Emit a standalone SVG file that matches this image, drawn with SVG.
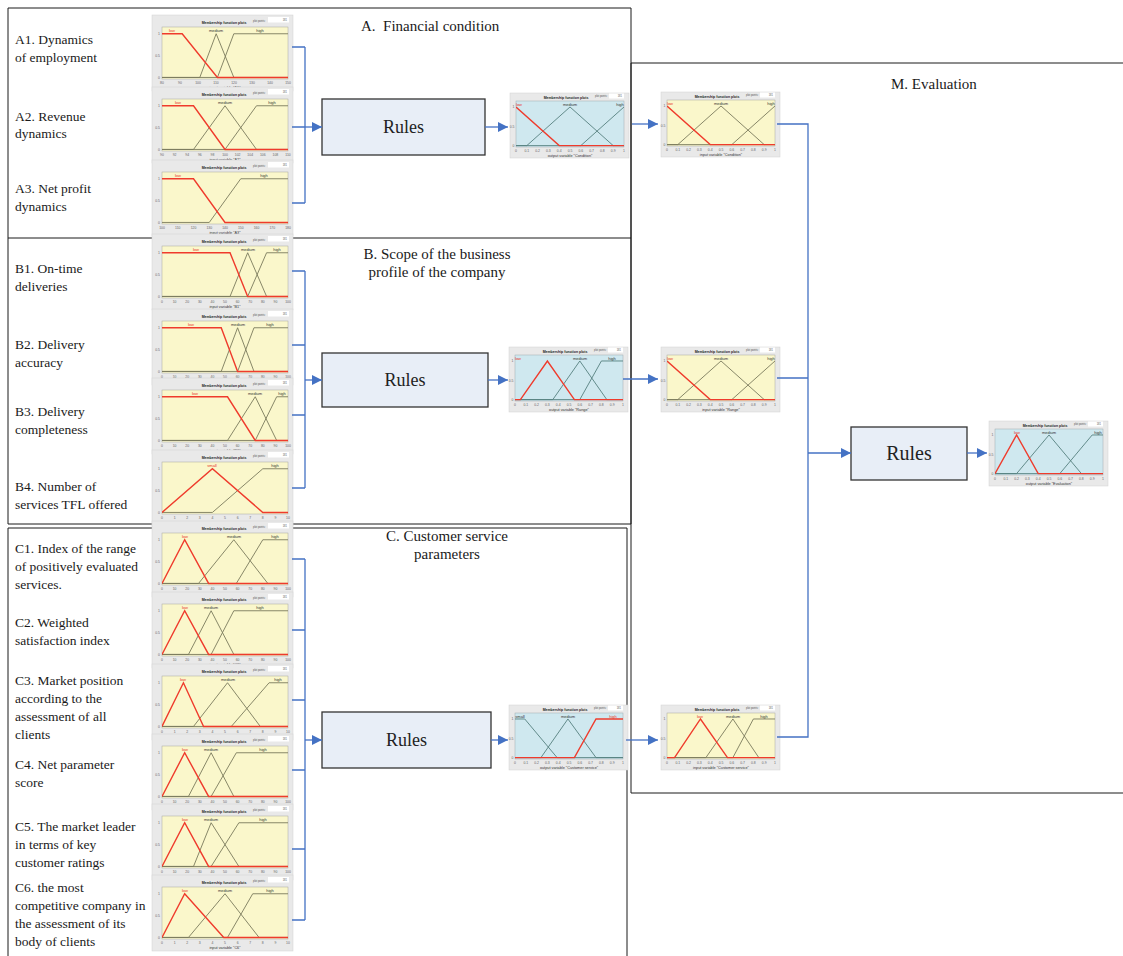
<svg xmlns="http://www.w3.org/2000/svg" xmlns:xlink="http://www.w3.org/1999/xlink" width="1123" height="956" viewBox="0 0 1123 956">
<style>
  .frame{fill:none;stroke:#1a1a1a;stroke-width:1}
  .hd{font-family:"Liberation Serif","Times New Roman",serif;font-size:15px;fill:#1a1a1a}
  .it{font-family:"Liberation Serif","Times New Roman",serif;font-size:13.5px;fill:#1a1a1a}
  .rb{fill:#e8eef7;stroke:#333;stroke-width:1.3}
  .rt{font-family:"Liberation Serif","Times New Roman",serif;font-size:18px;fill:#222;text-anchor:middle}
  .cn{fill:none;stroke:#4472c4;stroke-width:1.3}
  .pnl{fill:#e9e9e9;stroke:#d2d2d2;stroke-width:0.5}
  .yel{fill:#faf7cb;stroke:#a8a8a0;stroke-width:0.5}
  .blu{fill:#cfe8ef;stroke:#a0aab0;stroke-width:0.5}
  .ppb{fill:#fff}
  .ttl{font-family:"Liberation Sans",Arial,sans-serif;font-size:3.5px;font-weight:bold;fill:#222;text-anchor:middle}
  .pp{font-family:"Liberation Sans",Arial,sans-serif;font-size:2.6px;fill:#555}
  .tk{font-family:"Liberation Sans",Arial,sans-serif;font-size:3.4px;fill:#666;text-anchor:middle}
  .yl{font-family:"Liberation Sans",Arial,sans-serif;font-size:3.4px;fill:#666;text-anchor:end}
  .cap{font-family:"Liberation Sans",Arial,sans-serif;font-size:3.8px;fill:#333;text-anchor:middle}
  .lb{font-family:"Liberation Sans",Arial,sans-serif;font-size:4px;fill:#333;text-anchor:middle}
  .lr{fill:#e8352a}
  .mf{fill:none;stroke:#7a7a5c;stroke-width:0.9;vector-effect:non-scaling-stroke}
  .mfb{fill:none;stroke:#56807f;stroke-width:0.9;vector-effect:non-scaling-stroke}
  .sel{fill:none;stroke:#ef3b2c;stroke-width:1.4;vector-effect:non-scaling-stroke}
</style>
<defs>
  <marker id="ah" viewBox="0 0 10 10" refX="10" refY="5" markerWidth="10" markerHeight="10" markerUnits="userSpaceOnUse" orient="auto">
    <path d="M0,0 L10,5 L0,10 z" fill="#4472c4"/>
  </marker>
  <!-- input-variable panel: plot area 126 x 52 at local origin -->
  <g id="fin">
    <rect class="pnl" x="-10" y="-12" width="141" height="76"/>
    <text class="ttl" x="62" y="-3">Membership function plots</text>
    <text class="pp" x="91" y="-5.5">plot points:</text>
    <rect class="ppb" x="106" y="-10" width="21" height="5.5"/>
    <text class="pp" x="125" y="-6" text-anchor="end">181</text>
    <rect class="yel" width="126" height="52"/>
    <text class="yl" x="-2" y="8">1</text>
    <text class="yl" x="-2" y="29.8">0.5</text>
    <text class="yl" x="-2" y="51.6">0</text>
  </g>
  <!-- output-style panels: plot area 108 x 46 -->
  <g id="foy">
    <rect class="pnl" x="-6" y="-8" width="119" height="65"/>
    <text class="ttl" x="50" y="-2">Membership function plots</text>
    <text class="pp" x="79" y="-4">plot points:</text>
    <rect class="ppb" x="93" y="-7.5" width="15" height="5"/>
    <text class="pp" x="106" y="-4" text-anchor="end">181</text>
    <rect class="yel" width="108" height="46"/>
    <text class="yl" x="-1.5" y="7.2">1</text>
    <text class="yl" x="-1.5" y="26.5">0.5</text>
    <text class="yl" x="-1.5" y="45.8">0</text>
  </g>
  <g id="fob">
    <rect class="pnl" x="-6" y="-8" width="119" height="65"/>
    <text class="ttl" x="50" y="-2">Membership function plots</text>
    <text class="pp" x="79" y="-4">plot points:</text>
    <rect class="ppb" x="93" y="-7.5" width="15" height="5"/>
    <text class="pp" x="106" y="-4" text-anchor="end">181</text>
    <rect class="blu" width="108" height="46"/>
    <text class="yl" x="-1.5" y="7.2">1</text>
    <text class="yl" x="-1.5" y="26.5">0.5</text>
    <text class="yl" x="-1.5" y="45.8">0</text>
  </g>
  <!-- axis tick label rows -->
  <g id="t100">
    <text class="tk" x="0" y="56.5">0</text><text class="tk" x="12.6" y="56.5">10</text><text class="tk" x="25.2" y="56.5">20</text><text class="tk" x="37.8" y="56.5">30</text><text class="tk" x="50.4" y="56.5">40</text><text class="tk" x="63" y="56.5">50</text><text class="tk" x="75.6" y="56.5">60</text><text class="tk" x="88.2" y="56.5">70</text><text class="tk" x="100.8" y="56.5">80</text><text class="tk" x="113.4" y="56.5">90</text><text class="tk" x="126" y="56.5">100</text>
  </g>
  <g id="t10">
    <text class="tk" x="0" y="56.5">0</text><text class="tk" x="12.6" y="56.5">1</text><text class="tk" x="25.2" y="56.5">2</text><text class="tk" x="37.8" y="56.5">3</text><text class="tk" x="50.4" y="56.5">4</text><text class="tk" x="63" y="56.5">5</text><text class="tk" x="75.6" y="56.5">6</text><text class="tk" x="88.2" y="56.5">7</text><text class="tk" x="100.8" y="56.5">8</text><text class="tk" x="113.4" y="56.5">9</text><text class="tk" x="126" y="56.5">10</text>
  </g>
  <g id="t01">
    <text class="tk" x="0" y="50.5">0</text><text class="tk" x="10.8" y="50.5">0.1</text><text class="tk" x="21.6" y="50.5">0.2</text><text class="tk" x="32.4" y="50.5">0.3</text><text class="tk" x="43.2" y="50.5">0.4</text><text class="tk" x="54" y="50.5">0.5</text><text class="tk" x="64.8" y="50.5">0.6</text><text class="tk" x="75.6" y="50.5">0.7</text><text class="tk" x="86.4" y="50.5">0.8</text><text class="tk" x="97.2" y="50.5">0.9</text><text class="tk" x="108" y="50.5">1</text>
  </g>
</defs>

<rect width="1123" height="956" fill="#ffffff"/>

<!-- section frames -->
<g id="frames">
  <path class="frame" d="M8,8 H631 V524 H8 Z M8,238 H631"/>
  <path class="frame" d="M8,956 V528 H627 V956"/>
  <path class="frame" d="M1123,63 H631 V793 H1123"/>
  <text class="hd" x="361" y="31">A.&#160; Financial condition</text>
  <text class="hd" x="437" y="259" text-anchor="middle">B. Scope of the business</text>
  <text class="hd" x="437" y="277" text-anchor="middle">profile of the company</text>
  <text class="hd" x="447" y="541" text-anchor="middle">C. Customer service</text>
  <text class="hd" x="447" y="559" text-anchor="middle">parameters</text>
  <text class="hd" x="891" y="89">M. Evaluation</text>
</g>

<!-- indicator labels -->
<g id="labels">
  <text class="it" x="15" y="44">A1. Dynamics</text>
  <text class="it" x="15" y="62">of employment</text>
  <text class="it" x="15" y="121">A2. Revenue</text>
  <text class="it" x="15" y="138">dynamics</text>
  <text class="it" x="15" y="193">A3. Net profit</text>
  <text class="it" x="15" y="211">dynamics</text>
  <text class="it" x="15" y="273">B1. On-time</text>
  <text class="it" x="15" y="291">deliveries</text>
  <text class="it" x="15" y="349">B2. Delivery</text>
  <text class="it" x="15" y="367">accuracy</text>
  <text class="it" x="15" y="416">B3. Delivery</text>
  <text class="it" x="15" y="434">completeness</text>
  <text class="it" x="15" y="491">B4. Number of</text>
  <text class="it" x="15" y="509">services TFL offered</text>
  <text class="it" x="15" y="553">C1. Index of the range</text>
  <text class="it" x="15" y="571">of positively evaluated</text>
  <text class="it" x="15" y="589">services.</text>
  <text class="it" x="15" y="627">C2. Weighted</text>
  <text class="it" x="15" y="645">satisfaction index</text>
  <text class="it" x="15" y="685">C3. Market position</text>
  <text class="it" x="15" y="703">according to the</text>
  <text class="it" x="15" y="721">assessment of all</text>
  <text class="it" x="15" y="739">clients</text>
  <text class="it" x="15" y="769">C4. Net parameter</text>
  <text class="it" x="15" y="787">score</text>
  <text class="it" x="15" y="831">C5. The market leader</text>
  <text class="it" x="15" y="849">in terms of key</text>
  <text class="it" x="15" y="867">customer ratings</text>
  <text class="it" x="15" y="892">C6. the most</text>
  <text class="it" x="15" y="910">competitive company in</text>
  <text class="it" x="15" y="928">the assessment of its</text>
  <text class="it" x="15" y="946">body of clients</text>
</g>

<!-- membership function plots: inputs -->
<g id="plotA1" transform="translate(162,27)">
  <use href="#fin"/>
  <svg width="126" height="52" viewBox="0 0 100 100" preserveAspectRatio="none">
    <polyline class="mf" points="0,97 30,97 43,13 57,97 100,97"/>
    <polyline class="mf" points="0,97 44,97 57,13 100,13"/>
    <polyline class="sel" points="0,13 16,13 44,97 100,97"/>
  </svg>
  <text class="lb lr" x="10" y="5.2">low</text><text class="lb" x="54" y="5.2">medium</text><text class="lb" x="98" y="5.2">high</text>
  <text class="tk" x="0" y="56.5">80</text><text class="tk" x="18" y="56.5">90</text><text class="tk" x="36" y="56.5">100</text><text class="tk" x="54" y="56.5">110</text><text class="tk" x="72" y="56.5">120</text><text class="tk" x="90" y="56.5">130</text><text class="tk" x="108" y="56.5">140</text><text class="tk" x="126" y="56.5">150</text>
  <text class="cap" x="63" y="61.5">input variable "A1"</text>
</g>
<g id="plotA2" transform="translate(162,99)">
  <use href="#fin"/>
  <svg width="126" height="52" viewBox="0 0 100 100" preserveAspectRatio="none">
    <polyline class="mf" points="0,97 25,97 50,13 75,97 100,97"/>
    <polyline class="mf" points="0,97 50,97 75,13 100,13"/>
    <polyline class="sel" points="0,13 25,13 50,97 100,97"/>
  </svg>
  <text class="lb lr" x="16" y="5.2">low</text><text class="lb" x="63" y="5.2">medium</text><text class="lb" x="110" y="5.2">high</text>
  <text class="tk" x="0" y="56.5">90</text><text class="tk" x="12.6" y="56.5">92</text><text class="tk" x="25.2" y="56.5">94</text><text class="tk" x="37.8" y="56.5">96</text><text class="tk" x="50.4" y="56.5">98</text><text class="tk" x="63" y="56.5">100</text><text class="tk" x="75.6" y="56.5">102</text><text class="tk" x="88.2" y="56.5">104</text><text class="tk" x="100.8" y="56.5">106</text><text class="tk" x="113.4" y="56.5">108</text><text class="tk" x="126" y="56.5">110</text>
  <text class="cap" x="63" y="61.5">input variable "A2"</text>
</g>
<g id="plotA3" transform="translate(162,172)">
  <use href="#fin"/>
  <svg width="126" height="52" viewBox="0 0 100 100" preserveAspectRatio="none">
    <polyline class="mf" points="0,97 37.5,97 62.5,13 100,13"/>
    <polyline class="sel" points="0,13 25,13 50,97 100,97"/>
  </svg>
  <text class="lb lr" x="16" y="5.2">low</text><text class="lb" x="102" y="5.2">high</text>
  <text class="tk" x="0" y="56.5">100</text><text class="tk" x="15.75" y="56.5">110</text><text class="tk" x="31.5" y="56.5">120</text><text class="tk" x="47.25" y="56.5">130</text><text class="tk" x="63" y="56.5">140</text><text class="tk" x="78.75" y="56.5">150</text><text class="tk" x="94.5" y="56.5">160</text><text class="tk" x="110.25" y="56.5">170</text><text class="tk" x="126" y="56.5">180</text>
  <text class="cap" x="63" y="61.5">input variable "A3"</text>
</g>
<g id="plotB1" transform="translate(162,246)">
  <use href="#fin"/>
  <svg width="126" height="52" viewBox="0 0 100 100" preserveAspectRatio="none">
    <polyline class="mf" points="0,97 54,97 68,13 83,97 100,97"/>
    <polyline class="mf" points="0,97 68,97 83,13 100,13"/>
    <polyline class="sel" points="0,13 54,13 68,97 100,97"/>
  </svg>
  <text class="lb lr" x="34" y="5.2">low</text><text class="lb" x="86" y="5.2">medium</text><text class="lb" x="115" y="5.2">high</text>
  <use href="#t100"/>
  <text class="cap" x="63" y="61.5">input variable "B1"</text>
</g>
<g id="plotB2" transform="translate(162,321)">
  <use href="#fin"/>
  <svg width="126" height="52" viewBox="0 0 100 100" preserveAspectRatio="none">
    <polyline class="mf" points="0,97 47,97 60,13 73,97 100,97"/>
    <polyline class="mf" points="0,97 60,97 73,13 100,13"/>
    <polyline class="sel" points="0,13 47,13 60,97 100,97"/>
  </svg>
  <text class="lb lr" x="29" y="5.2">low</text><text class="lb" x="76" y="5.2">medium</text><text class="lb" x="108" y="5.2">high</text>
  <use href="#t100"/>
  <text class="cap" x="63" y="61.5">input variable "B2"</text>
</g>
<g id="plotB3" transform="translate(162,390)">
  <use href="#fin"/>
  <svg width="126" height="52" viewBox="0 0 100 100" preserveAspectRatio="none">
    <polyline class="mf" points="0,97 52,97 74,13 91,97 100,97"/>
    <polyline class="mf" points="0,97 74,97 91,13 100,13"/>
    <polyline class="sel" points="0,13 52,13 74,97 100,97"/>
  </svg>
  <text class="lb lr" x="33" y="5.2">low</text><text class="lb" x="93" y="5.2">medium</text><text class="lb" x="120" y="5.2">high</text>
  <use href="#t100"/>
  <text class="cap" x="63" y="61.5">input variable "B3"</text>
</g>
<g id="plotB4" transform="translate(162,462)">
  <use href="#fin"/>
  <svg width="126" height="52" viewBox="0 0 100 100" preserveAspectRatio="none">
    <polyline class="mf" points="0,97 40,97 80,13 100,13"/>
    <polyline class="sel" points="0,97 40,13 80,97 100,97"/>
  </svg>
  <text class="lb lr" x="50" y="5.2">small</text><text class="lb" x="113" y="5.2">high</text>
  <use href="#t10"/>
  <text class="cap" x="63" y="61.5">input variable "B4"</text>
</g>
<g id="plotC1" transform="translate(162,533)">
  <use href="#fin"/>
  <svg width="126" height="52" viewBox="0 0 100 100" preserveAspectRatio="none">
    <polyline class="mf" points="0,97 29,97 57,13 84,97 100,97"/>
    <polyline class="mf" points="0,97 59,97 80,13 100,13"/>
    <polyline class="sel" points="0,97 18,13 37,97 100,97"/>
  </svg>
  <text class="lb lr" x="23" y="5.2">low</text><text class="lb" x="72" y="5.2">medium</text><text class="lb" x="113" y="5.2">high</text>
  <use href="#t100"/>
  <text class="cap" x="63" y="61.5">input variable "C1"</text>
</g>
<g id="plotC2" transform="translate(162,604)">
  <use href="#fin"/>
  <svg width="126" height="52" viewBox="0 0 100 100" preserveAspectRatio="none">
    <polyline class="mf" points="0,97 21,97 39,13 57,97 100,97"/>
    <polyline class="mf" points="0,97 39,97 57,13 100,13"/>
    <polyline class="sel" points="0,97 18,13 37,97 100,97"/>
  </svg>
  <text class="lb lr" x="23" y="5.2">low</text><text class="lb" x="49" y="5.2">medium</text><text class="lb" x="98" y="5.2">high</text>
  <use href="#t100"/>
  <text class="cap" x="63" y="61.5">input variable "C2"</text>
</g>
<g id="plotC3" transform="translate(162,676)">
  <use href="#fin"/>
  <svg width="126" height="52" viewBox="0 0 100 100" preserveAspectRatio="none">
    <polyline class="mf" points="0,97 25,97 52,13 78,97 100,97"/>
    <polyline class="mf" points="0,97 55,97 85,13 100,13"/>
    <polyline class="sel" points="0,97 17,13 33,97 100,97"/>
  </svg>
  <text class="lb lr" x="21" y="5.2">low</text><text class="lb" x="66" y="5.2">medium</text><text class="lb" x="116" y="5.2">high</text>
  <use href="#t10"/>
  <text class="cap" x="63" y="61.5">input variable "C3"</text>
</g>
<g id="plotC4" transform="translate(162,746)">
  <use href="#fin"/>
  <svg width="126" height="52" viewBox="0 0 100 100" preserveAspectRatio="none">
    <polyline class="mf" points="0,97 21,97 39,13 57,97 100,97"/>
    <polyline class="mf" points="0,97 39,97 59,13 100,13"/>
    <polyline class="sel" points="0,97 18,13 37,97 100,97"/>
  </svg>
  <text class="lb lr" x="23" y="5.2">low</text><text class="lb" x="49" y="5.2">medium</text><text class="lb" x="101" y="5.2">high</text>
  <use href="#t100"/>
  <text class="cap" x="63" y="61.5">input variable "C4"</text>
</g>
<g id="plotC5" transform="translate(162,816)">
  <use href="#fin"/>
  <svg width="126" height="52" viewBox="0 0 100 100" preserveAspectRatio="none">
    <polyline class="mf" points="0,97 25,97 39,13 61,97 100,97"/>
    <polyline class="mf" points="0,97 39,97 61,13 100,13"/>
    <polyline class="sel" points="0,97 18,13 37,97 100,97"/>
  </svg>
  <text class="lb lr" x="23" y="5.2">low</text><text class="lb" x="49" y="5.2">medium</text><text class="lb" x="101" y="5.2">high</text>
  <use href="#t100"/>
  <text class="cap" x="63" y="61.5">input variable "C5"</text>
</g>
<g id="plotC6" transform="translate(162,887)">
  <use href="#fin"/>
  <svg width="126" height="52" viewBox="0 0 100 100" preserveAspectRatio="none">
    <polyline class="mf" points="0,97 21,97 50,13 77,97 100,97"/>
    <polyline class="mf" points="0,97 52,97 72,13 100,13"/>
    <polyline class="sel" points="0,97 18,13 49,97 100,97"/>
  </svg>
  <text class="lb lr" x="23" y="5.2">low</text><text class="lb" x="63" y="5.2">medium</text><text class="lb" x="108" y="5.2">high</text>
  <use href="#t10"/>
  <text class="cap" x="63" y="61.5">input variable "C6"</text>
</g>

<!-- aggregated outputs and evaluation inputs -->
<g id="outA" transform="translate(516,101)">
  <use href="#fob"/>
  <svg width="108" height="46" viewBox="0 0 100 100" preserveAspectRatio="none">
    <polyline class="mfb" points="0,97 10,97 50,13 90,97 100,97"/>
    <polyline class="mfb" points="0,97 60,97 100,13"/>
    <polyline class="sel" points="0,13 40,97 100,97"/>
  </svg>
  <text class="lb lr" x="3" y="4.6">low</text><text class="lb" x="54" y="4.6">medium</text><text class="lb" x="104" y="4.6">high</text>
  <use href="#t01"/>
  <text class="cap" x="54" y="55.5">output variable "Condition"</text>
</g>
<g id="evalA" transform="translate(667,100)">
  <use href="#foy"/>
  <svg width="108" height="46" viewBox="0 0 100 100" preserveAspectRatio="none">
    <polyline class="mf" points="0,97 10,97 50,13 90,97 100,97"/>
    <polyline class="mf" points="0,97 60,97 100,13"/>
    <polyline class="sel" points="0,13 40,97 100,97"/>
  </svg>
  <text class="lb lr" x="3" y="4.6">low</text><text class="lb" x="54" y="4.6">medium</text><text class="lb" x="104" y="4.6">high</text>
  <use href="#t01"/>
  <text class="cap" x="54" y="55.5">input variable "Condition"</text>
</g>
<g id="outB" transform="translate(515,355)">
  <use href="#fob"/>
  <svg width="108" height="46" viewBox="0 0 100 100" preserveAspectRatio="none">
    <polyline class="mfb" points="0,97 35,97 60,13 85,97 100,97"/>
    <polyline class="mfb" points="0,97 60,97 80,13 100,13"/>
    <polyline class="sel" points="0,97 5,97 30,13 55,97 100,97"/>
  </svg>
  <text class="lb lr" x="3" y="4.6">low</text><text class="lb" x="65" y="4.6">medium</text><text class="lb" x="97" y="4.6">high</text>
  <use href="#t01"/>
  <text class="cap" x="54" y="55.5">output variable "Range"</text>
</g>
<g id="evalB" transform="translate(667,355)">
  <use href="#foy"/>
  <svg width="108" height="46" viewBox="0 0 100 100" preserveAspectRatio="none">
    <polyline class="mf" points="0,97 10,97 50,13 90,97 100,97"/>
    <polyline class="mf" points="0,97 60,97 100,13"/>
    <polyline class="sel" points="0,13 40,97 100,97"/>
  </svg>
  <text class="lb lr" x="3" y="4.6">low</text><text class="lb" x="54" y="4.6">medium</text><text class="lb" x="104" y="4.6">high</text>
  <use href="#t01"/>
  <text class="cap" x="54" y="55.5">input variable "Range"</text>
</g>
<g id="outC" transform="translate(515,713)">
  <use href="#fob"/>
  <svg width="108" height="46" viewBox="0 0 100 100" preserveAspectRatio="none">
    <polyline class="mfb" points="0,13 9,13 39,97 100,97"/>
    <polyline class="mfb" points="0,97 24,97 49,13 75,97 100,97"/>
    <polyline class="sel" points="0,97 55,97 75,13 100,13"/>
  </svg>
  <text class="lb" x="5" y="4.6">small</text><text class="lb" x="53" y="4.6">medium</text><text class="lb lr" x="98" y="4.6">high</text>
  <use href="#t01"/>
  <text class="cap" x="54" y="55.5">output variable "Customer service"</text>
</g>
<g id="evalC" transform="translate(667,713)">
  <use href="#foy"/>
  <svg width="108" height="46" viewBox="0 0 100 100" preserveAspectRatio="none">
    <polyline class="mf" points="0,97 36,97 61,13 85,97 100,97"/>
    <polyline class="mf" points="0,97 61,97 80,13 100,13"/>
    <polyline class="sel" points="0,97 7,97 31,13 56,97 100,97"/>
  </svg>
  <text class="lb lr" x="33" y="4.6">low</text><text class="lb" x="66" y="4.6">medium</text><text class="lb" x="97" y="4.6">high</text>
  <use href="#t01"/>
  <text class="cap" x="54" y="55.5">input variable "Customer service"</text>
</g>
<g id="outM" transform="translate(995,429)">
  <use href="#fob"/>
  <svg width="108" height="46" viewBox="0 0 100 100" preserveAspectRatio="none">
    <polyline class="mfb" points="0,97 20,97 50,13 80,97 100,97"/>
    <polyline class="mfb" points="0,97 60,97 90,13 100,13"/>
    <polyline class="sel" points="0,97 20,13 40,97 100,97"/>
  </svg>
  <text class="lb lr" x="22" y="4.6">low</text><text class="lb" x="54" y="4.6">medium</text><text class="lb" x="103" y="4.6">high</text>
  <use href="#t01"/>
  <text class="cap" x="54" y="55.5">output variable "Evaluation"</text>
</g>

<!-- rule blocks -->
<g id="rulesA"><rect class="rb" x="322" y="99" width="163" height="56"/><text class="rt" x="403.5" y="133">Rules</text></g>
<g id="rulesB"><rect class="rb" x="322" y="353" width="166" height="54"/><text class="rt" x="405" y="386">Rules</text></g>
<g id="rulesC"><rect class="rb" x="322" y="712" width="169" height="56"/><text class="rt" x="406.5" y="746">Rules</text></g>
<g id="rulesM"><rect class="rb" x="851" y="427" width="116" height="53"/><text class="rt" x="909" y="460" style="font-size:20px">Rules</text></g>

<!-- connectors -->
<g id="connectors">
  <path class="cn" d="M292,47 H305 M292,127 H305 M292,203 H305 M305,47 V203"/>
  <path class="cn" d="M305,127 H322" marker-end="url(#ah)"/>
  <path class="cn" d="M485,127 H508" marker-end="url(#ah)"/>
  <path class="cn" d="M632,124 H658" marker-end="url(#ah)"/>

  <path class="cn" d="M292,271 H305 M292,345 H305 M292,415 H305 M292,488 H305 M305,271 V488"/>
  <path class="cn" d="M305,380 H322" marker-end="url(#ah)"/>
  <path class="cn" d="M488,380 H508" marker-end="url(#ah)"/>
  <path class="cn" d="M623,379 H658" marker-end="url(#ah)"/>

  <path class="cn" d="M292,559 H305 M292,630 H305 M292,700 H305 M292,770 H305 M292,849 H305 M292,920 H305 M305,559 V920"/>
  <path class="cn" d="M305,740 H322" marker-end="url(#ah)"/>
  <path class="cn" d="M491,740 H508" marker-end="url(#ah)"/>
  <path class="cn" d="M626,740 H658" marker-end="url(#ah)"/>

  <path class="cn" d="M777,124 H808 V737 H777 M777,378 H808"/>
  <path class="cn" d="M808,453 H851" marker-end="url(#ah)"/>
  <path class="cn" d="M967,453 H987" marker-end="url(#ah)"/>
</g>
</svg>
